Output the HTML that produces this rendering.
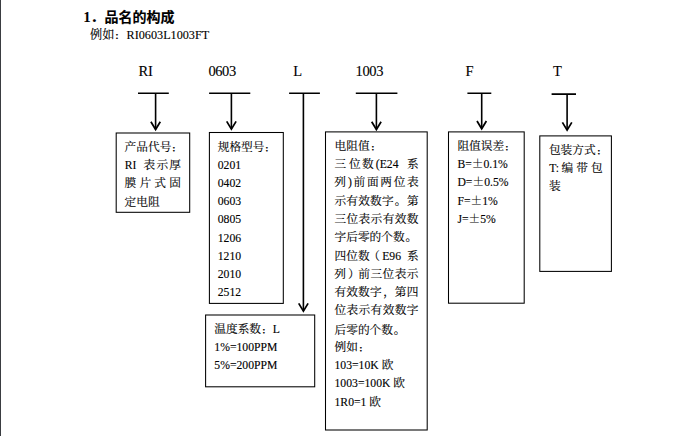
<!DOCTYPE html>
<html lang="zh-CN">
<head>
<meta charset="utf-8">
<title>品名的构成</title>
<style>
html,body{margin:0;padding:0;background:#fff;}
body{width:695px;height:436px;position:relative;overflow:hidden;color:#000;
 font-family:"Liberation Serif","Noto Serif CJK SC",serif;font-size:11.7px;-webkit-text-stroke:0.12px #000;}
#edge{position:absolute;left:0;top:0;width:1px;height:436px;background:#3a3d41;}
svg{position:absolute;left:0;top:0;}
.t{position:absolute;white-space:pre;line-height:18px;height:18px;}
.m{width:695px;}
.k{display:inline-block;line-height:18px;font-weight:900;transform:translateX(0.4px) scale(0.7,0.62);transform-origin:0 12.4px;}
.c{font-family:"Noto Serif CJK SC",serif;line-height:0;}
.m span{position:absolute;top:0;}
.m span.p,.p{position:relative;left:0.8px;}
.h{font-family:"Liberation Serif","Noto Sans CJK SC",sans-serif;font-weight:bold;font-size:14px;}
.lab{font-size:14.5px;transform:translateY(-0.9px) scaleY(1.07);transform-origin:0 14px;}
</style>
</head>
<body>
<div id="edge"></div>
<svg width="695" height="436" viewBox="0 0 695 436" fill="none" stroke="#000">
<path stroke-width="1.6" d="M138.0 93.2H168.8M209.1 93.2H250.3M289.1 93.2H319.9M355.8 93.2H397.4M467.4 93.3H491.3M551.6 94.1H576.0"/>
<path stroke-width="1.6" d="M155.6 93.2V129.2M231.4 93.2V128.8M303.4 93.2V310.8M376.4 93.2V129.2M481.7 93.3V128.4M567.1 94.1V129.8"/>
<path stroke-width="1.75" stroke-linejoin="miter" d="M150.9 121.8L155.6 129.5L160.3 121.8M226.7 121.4L231.4 129.1L236.1 121.4M298.7 303.4L303.4 311.1L308.1 303.4M371.7 121.8L376.4 129.5L381.1 121.8M477.0 121.0L481.7 128.7L486.4 121.0M562.4 122.4L567.1 130.1L571.8 122.4"/>
<g stroke-width="1.05" stroke="#000"><rect x="116.2" y="133.0" width="73.5" height="79.3"/><rect x="209.4" y="132.5" width="73.9" height="170.9"/><rect x="205.6" y="315.0" width="109.1" height="71.8"/><rect x="325.5" y="131.9" width="101.7" height="298.1"/><rect x="448.5" y="131.9" width="75.7" height="171.3"/><rect x="539.8" y="135.9" width="71.6" height="135.5"/></g>
</svg>
<div class="t h" style="left:83.4px;top:9px;">1．品名的构成</div>
<div class="t" style="left:90px;top:26px;font-size:12.2px;">例如<span class="k" style="transform-origin:0 13.4px">：</span>RI0603L1003FT</div>
<div class="t lab" style="left:138.4px;top:63px;">RI</div>
<div class="t lab" style="left:208.4px;top:63px;letter-spacing:-0.4px;">0603</div>
<div class="t lab" style="left:293.3px;top:63px;">L</div>
<div class="t lab" style="left:355.6px;top:63px;letter-spacing:-0.4px;">1003</div>
<div class="t lab" style="left:465.4px;top:63px;">F</div>
<div class="t lab" style="left:553px;top:63px;">T</div>
<div class="t" style="left:124.6px;top:139px;">产品代号<span class="k">：</span></div>
<div class="t m" style="left:0;top:157px;"><span style="left:124.8px;">RI </span><span style="left:143.6px;letter-spacing:1.2px;">表示厚</span></div>
<div class="t m" style="left:0;top:175px;"><span style="left:124.6px;word-spacing:0.28px;">膜 片 式 固</span></div>
<div class="t" style="left:124.6px;top:194px;">定电阻</div>
<div class="t" style="left:217.7px;top:139px;">规格型号<span class="k">：</span></div>
<div class="t" style="left:217.7px;top:157px;">0201</div>
<div class="t" style="left:217.7px;top:175px;">0402</div>
<div class="t" style="left:217.7px;top:193px;">0603</div>
<div class="t" style="left:217.7px;top:211px;">0805</div>
<div class="t" style="left:217.7px;top:230px;">1206</div>
<div class="t" style="left:217.7px;top:248px;">1210</div>
<div class="t" style="left:217.7px;top:266px;">2010</div>
<div class="t" style="left:217.7px;top:284px;">2512</div>
<div class="t" style="left:214.3px;top:321px;">温度系数<span class="k">：</span>L</div>
<div class="t" style="left:214.3px;top:339px;">1%=100PPM</div>
<div class="t" style="left:214.3px;top:357px;">5%=200PPM</div>
<div class="t" style="left:334.5px;top:138px;">电阻值<span class="k">：</span></div>
<div class="t m" style="left:0;top:156px;"><span style="left:334.4px;">三 </span><span style="left:348.95px;">位 </span><span style="left:361.95px;">数</span><span style="left:375.8px;">(E24 </span><span style="left:406.9px;">系</span></div>
<div class="t m" style="left:0;top:174px;"><span style="left:334.2px;">列</span><span style="left:347.9px;">)</span><span style="left:353.5px;letter-spacing:1.69px;">前面两位表</span></div>
<div class="t m" style="left:0;top:193px;"><span style="left:334.45px;letter-spacing:0.2px;">示有效数字<span class="p">。</span></span><span style="left:407.05px;">第</span></div>
<div class="t m" style="left:0;top:211px;"><span style="left:334.45px;letter-spacing:0.37px;">三位表示有效数</span></div>
<div class="t" style="left:334.5px;top:229px;">字后零的个数<span class="p">。</span></div>
<div class="t m" style="left:0;top:248px;"><span style="left:334.45px;letter-spacing:0.15px;">四位数</span><span style="left:368.2px;">（</span><span style="left:382.2px;">E96 </span><span style="left:407.05px;">系</span></div>
<div class="t m" style="left:0;top:266px;"><span style="left:334.3px;">列</span><span style="left:348.0px;">）</span><span style="left:358.35px;letter-spacing:0.425px;">前三位表示</span></div>
<div class="t m" style="left:0;top:284px;"><span style="left:334.55px;letter-spacing:0.1px;">有效数字</span><span style="left:383.3px;">，</span><span style="left:394.8px;letter-spacing:0.25px;">第四</span></div>
<div class="t m" style="left:0;top:302px;"><span style="left:334.45px;letter-spacing:0.37px;">位表示有效数字</span></div>
<div class="t" style="left:334.5px;top:322px;">后零的个数<span class="p">。</span></div>
<div class="t" style="left:334.5px;top:339px;">例如<span class="k">：</span></div>
<div class="t" style="left:334.5px;top:357px;">103=10K 欧</div>
<div class="t" style="left:334.5px;top:375px;">1003=100K 欧</div>
<div class="t" style="left:334.5px;top:394px;">1R0=1 欧</div>
<div class="t" style="left:457.4px;top:138px;">阻值误差<span class="k">：</span></div>
<div class="t" style="left:457.4px;top:156px;">B=<span class="c">±</span>0.1%</div>
<div class="t" style="left:457.4px;top:174px;">D=<span class="c">±</span>0.5%</div>
<div class="t" style="left:457.4px;top:193px;">F=<span class="c">±</span>1%</div>
<div class="t" style="left:457.4px;top:211px;">J=<span class="c">±</span>5%</div>
<div class="t" style="left:548.9px;top:142px;">包装方式<span class="k">：</span></div>
<div class="t m" style="left:0;top:160px;"><span style="left:549.2px;">T: </span><span style="left:561.55px;word-spacing:0.08px;">编 带 包</span></div>
<div class="t" style="left:548.9px;top:178px;">装</div>
</body>
</html>
